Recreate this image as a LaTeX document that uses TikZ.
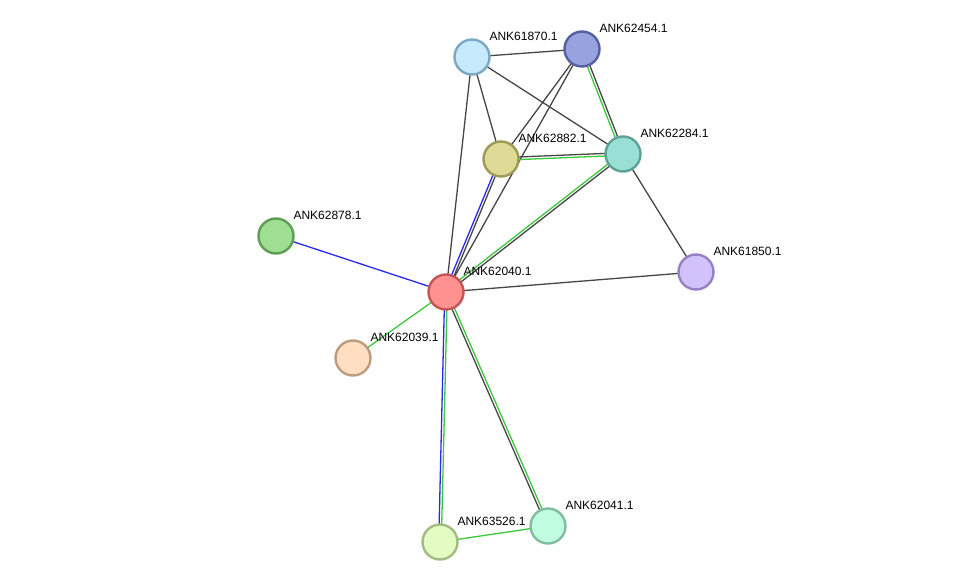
\documentclass[tikz,border=0pt]{standalone}
\usepackage{fontspec}
\setmainfont{Liberation Sans}
\usetikzlibrary{calc,backgrounds}
\definecolor{ec}{RGB}{70,70,70}
\definecolor{gc}{RGB}{60,200,60}
\definecolor{bc}{RGB}{40,40,240}
\tikzset{p/.style={circle,draw,line width=2.4pt,minimum size=35pt,inner sep=0pt},
 lab/.style={font=\fontsize{12}{14}\selectfont,inner sep=0pt,label distance=3pt,xshift=2pt,yshift=1pt},
 wire/.style={line width=1.3pt}}
\newcommand\lk[3]{\draw[wire,#3] (#1.center)--(#2.center);}
\newcommand\lkk[4]{\draw[wire,#3] ($(#1.center)!1.3pt!90:(#2.center)$)--($(#2.center)!1.3pt!-90:(#1.center)$);
 \draw[wire,#4] ($(#1.center)!1.3pt!-90:(#2.center)$)--($(#2.center)!1.3pt!90:(#1.center)$);}
\begin{document}
\begin{tikzpicture}[x=1pt,y=-1pt]
\useasboundingbox (0,0) rectangle (976,588);
\node[p,draw={rgb,255:red,123;green,167;blue,196},fill={rgb,255:red,198;green,233;blue,251},label={[lab]45:ANK61870.1}] (a) at (472,57) {};
\node[p,draw={rgb,255:red,85;green,96;blue,160},fill={rgb,255:red,152;green,162;blue,222},label={[lab]45:ANK62454.1}] (b) at (582,49) {};
\node[p,draw={rgb,255:red,156;green,154;blue,86},fill={rgb,255:red,222;green,219;blue,150},label={[lab]45:ANK62882.1}] (c) at (501,159) {};
\node[p,draw={rgb,255:red,94;green,161;blue,151},fill={rgb,255:red,152;green,223;blue,214},label={[lab]45:ANK62284.1}] (d) at (623,154) {};
\node[p,draw={rgb,255:red,94;green,158;blue,84},fill={rgb,255:red,159;green,223;blue,148},label={[lab]45:ANK62878.1}] (e) at (276,236) {};
\node[p,draw={rgb,255:red,197;green,85;blue,85},fill={rgb,255:red,255;green,145;blue,145},label={[lab]45:ANK62040.1}] (f) at (446,292) {};
\node[p,draw={rgb,255:red,149;green,128;blue,194},fill={rgb,255:red,210;green,194;blue,250},label={[lab]45:ANK61850.1}] (g) at (696,272) {};
\node[p,draw={rgb,255:red,188;green,156;blue,126},fill={rgb,255:red,255;green,222;blue,194},label={[lab]45:ANK62039.1}] (h) at (353,358) {};
\node[p,draw={rgb,255:red,163;green,187;blue,130},fill={rgb,255:red,226;green,252;blue,194},label={[lab]45:ANK63526.1}] (i) at (440,542) {};
\node[p,draw={rgb,255:red,128;green,188;blue,160},fill={rgb,255:red,192;green,252;blue,224},label={[lab]45:ANK62041.1}] (j) at (548,526) {};
\begin{scope}[on background layer]
\foreach \u/\v in {a/b,a/c,a/d,a/f,b/c,b/f,d/g,f/g}{\lk{\u}{\v}{ec}}
\lk{e}{f}{bc}
\lk{f}{h}{gc}
\lk{i}{j}{gc}
\lkk{b}{d}{ec}{gc}
\lkk{c}{d}{ec}{gc}
\lkk{c}{f}{ec}{bc}
\lkk{d}{f}{ec}{gc}
\lkk{f}{i}{gc}{bc}
\lkk{f}{j}{gc}{ec}
\end{scope}
\end{tikzpicture}
\end{document}
